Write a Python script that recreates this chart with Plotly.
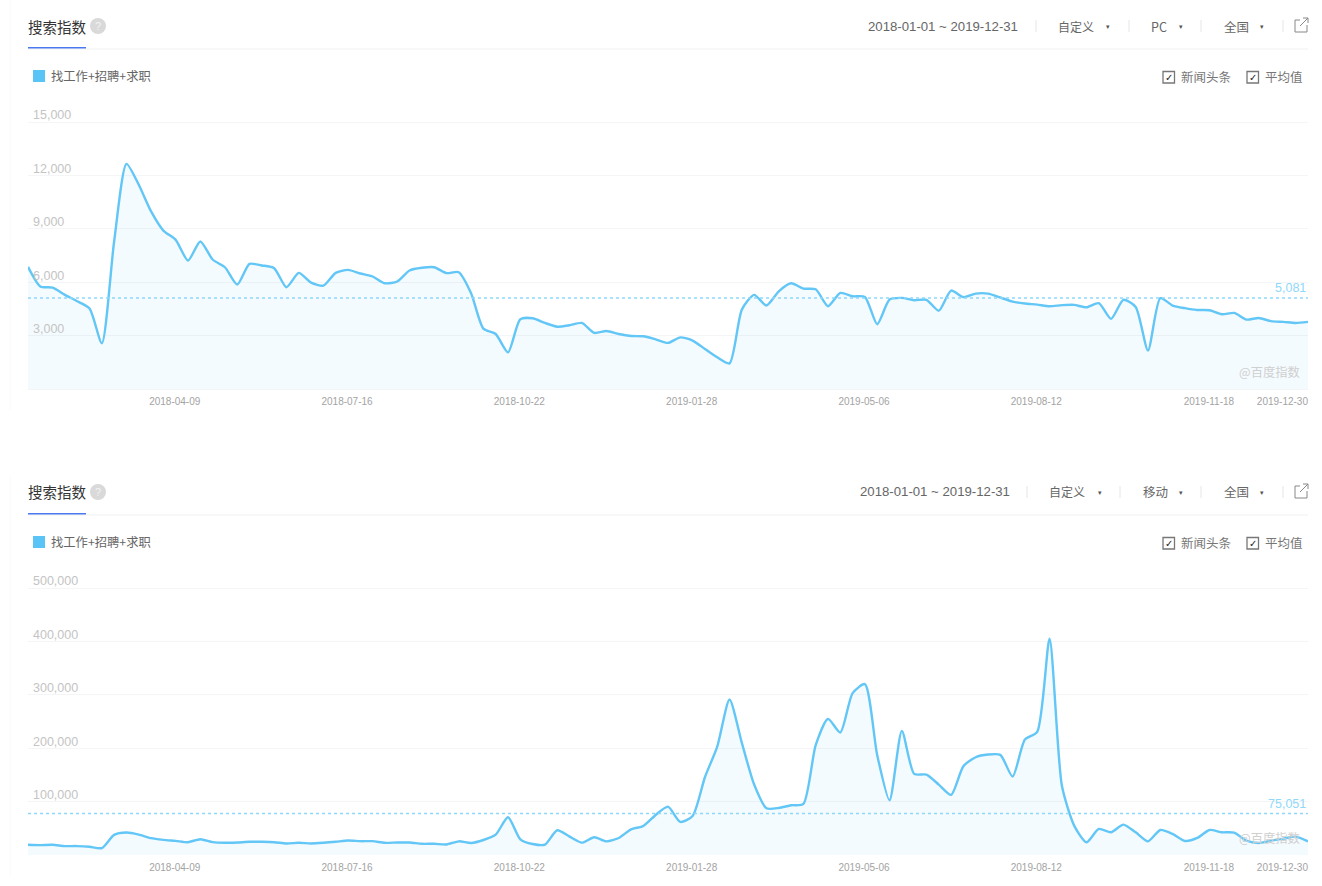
import pandas as pd
import plotly.graph_objects as go

W, H = 1322, 886
dates = pd.date_range("2018-01-01", periods=105, freq="7D")
pc_values = [6860,5760,5700,5290,4930,4520,2570,8300,12650,11475,9975,8900,8380,7220,8290,7275,6840,5870,7030,6940,6790,5720,6525,5980,5810,6525,6690,6490,6320,5940,6040,6660,6810,6840,6510,6560,
             5380,3390,3090,2060,3920,3975,3710,3500,3580,3710,3150,3260,3090,2980,2960,2790,2590,2900,2720,2250,1780,1440,4460,5290,4690,5490,5940,5640,5600,4650,5400,5210,5175,3640,5025,
             5120,4990,5010,4400,5530,5160,5360,5360,5140,4910,4800,4740,4650,4710,4725,4590,4820,3940,5010,4610,2160,5100,4690,4540,4440,4425,4200,4275,3900,3990,3810,3770,3710,3770]
mobile_values = [19100,18500,19100,16700,16700,15400,13000,37600,42000,38300,31500,28400,26500,24000,29600,24000,22800,23400,24700,24700,24000,21600,22800,21600,22800,24700,27100,25900,25900,22800,23400,23400,21000,21000,19700,25600,
                 22500,28100,38100,70600,29400,20600,19400,46250,34400,23100,33100,25600,31900,48100,54400,75000,90600,61900,73100,145600,203100,291250,210000,131900,87500,88100,93100,95600,205600,255000,229400,303100,320000,186900,102500,
                 232500,151900,150600,131900,112500,166250,183100,188100,187500,146900,216250,230600,405000,130000,55000,23750,48750,42500,56900,42500,25600,46900,39400,26250,31900,46900,42500,41900,26900,22500,26900,30600,34400,25600]
pc_avg, mobile_avg = 5081, 75051
# where the dashed mean lines sit in the picture
pc_avg_line, mobile_avg_line = 5110, 77500
pc_ticks = [0, 3000, 6000, 9000, 12000, 15000]
mobile_ticks = [0, 100000, 200000, 300000, 400000, 500000]
x_tick_dates = ["2018-04-09","2018-07-16","2018-10-22","2019-01-28","2019-05-06","2019-08-12","2019-11-18","2019-12-30"]
series_name = "找工作+招聘+求职"

LINE, FILL, AVG = "#62c6f6", "rgba(95,197,246,0.07)", "#8fd8fa"
GRID = "#f4f5f6"
CJK = "Noto Sans CJK SC, Liberation Sans"
LAT = "Liberation Sans, Noto Sans CJK SC"

def px(x): return x / W
def py(y): return 1 - y / H

fig = go.Figure()
shapes, notes = [], []

def rect(x0, y0, x1, y1, fill, line=None, lw=0):
    shapes.append(dict(type="rect", xref="paper", yref="paper", x0=px(x0), x1=px(x1), y0=py(y0), y1=py(y1),
                       fillcolor=fill, line=dict(color=line or fill, width=lw), layer="above"))

def seg(x0, y0, x1, y1, color, lw=1, layer="below"):
    shapes.append(dict(type="line", xref="paper", yref="paper", x0=px(x0), x1=px(x1), y0=py(y0), y1=py(y1),
                       line=dict(color=color, width=lw), layer=layer))

def text(x, y, s, size=12, color="#666", anchor="left", font=CJK):
    notes.append(dict(xref="paper", yref="paper", x=px(x), y=py(y), text=s, showarrow=False, xanchor=anchor,
                      yanchor="middle", font=dict(size=size, color=color, family=font), borderpad=0, borderwidth=0))

def panel(n, dy, values, avg, avg_line, ticks, device, date_x, div_x, dev_x, caret_x):
    xa, ya = ("x", "y") if n == 1 else ("x2", "y2")
    fig.add_trace(go.Scatter(x=dates, y=values, mode="lines", xaxis=xa, yaxis=ya, showlegend=False,
                             line=dict(color=LINE, width=2.4, shape="spline", smoothing=0.65),
                             fill="tozeroy", fillcolor=FILL, hoverinfo="skip"))
    fig.add_trace(go.Scatter(x=[dates[0], dates[-1]], y=[avg_line, avg_line], mode="lines", xaxis=xa, yaxis=ya, showlegend=False,
                             line=dict(color=AVG, width=1.5, dash="3px,3px"), hoverinfo="skip"))
    top, bot = 122 + dy, 389 + dy
    upp = ticks[-1] / (bot - top)  # data units per pixel
    axis = dict(domain=[py(bot + 1), py(top - 20)], range=[-upp, ticks[-1] + 20 * upp], tickvals=ticks,
                ticktext=[""] + [f"{t:,}" for t in ticks[1:]], ticklabelposition="inside", ticklabelshift=-7,
                ticklabelstandoff=2,
                tickfont=dict(size=12.5, color="#c4c4c4", family=LAT), showgrid=True, gridcolor=GRID, gridwidth=1,
                zeroline=False, showline=False, ticks="", anchor=xa)
    xaxis = dict(domain=[px(28), px(1308)], range=[dates[0], dates[-1]], tickvals=x_tick_dates, ticktext=x_tick_dates,
                 ticklabelposition="outside left", ticklabelstandoff=4, tickfont=dict(size=10, color="#a3a3a3", family=LAT),
                 showgrid=False, zeroline=False, showline=False, ticks="", anchor=ya, tickangle=0)
    fig.update_layout({("yaxis" if n == 1 else "yaxis2"): axis, ("xaxis" if n == 1 else "xaxis2"): xaxis})

    # header
    text(28, 26 + dy, "搜索指数", 14.5, "#333")
    shapes.append(dict(type="circle", xref="paper", yref="paper", x0=px(90), x1=px(106), y0=py(18 + dy), y1=py(34 + dy),
                       fillcolor="#d9d9d9", line=dict(width=0), layer="above"))
    text(98, 26 + dy, "?", 11, "#f3f3f3", "center", LAT)
    seg(28, 49 + dy, 1308, 49 + dy, "#f0f1f2", 1)
    rect(28, 47 + dy, 86, 48.5 + dy, "#4a78ee")
    seg(10, 0 + dy + (0 if dy == 0 else 10), 10, 410 + dy, "#fafafa", 1)
    # header controls
    text(date_x, 26 + dy, "2018-01-01 ~ 2019-12-31", 13.2, "#666", "left", LAT)
    for d in div_x:
        seg(d, 20 + dy, d, 32 + dy, "#e6e6e6", 1)
    text(dev_x[0], 26 + dy, "自定义", 12, "#666")
    text(dev_x[1], 26 + dy, device, 12.5, "#666")
    text(1224, 26 + dy, "全国", 12.5, "#666")
    for c in caret_x:
        text(c, 27 + dy, "▾", 7, "#555", "center", "DejaVu Sans")
    # external-link icon
    shapes.append(dict(type="rect", xref="paper", yref="paper", x0=px(1295), x1=px(1307), y0=py(20 + dy), y1=py(32 + dy),
                       fillcolor="rgba(0,0,0,0)", line=dict(color="#888", width=1), layer="above"))
    rect(1300, 17 + dy, 1309, 25 + dy, "#ffffff")
    seg(1300, 26 + dy, 1308, 18 + dy, "#888", 1, "above")
    seg(1303, 18 + dy, 1308, 18 + dy, "#888", 1, "above")
    seg(1308, 18 + dy, 1308, 23 + dy, "#888", 1, "above")
    # legend
    rect(33, 70 + dy, 45, 82 + dy, "#5bc4f6")
    text(51, 76 + dy, series_name, 12.3, "#666")
    # checkboxes
    for x0, label, tx in [(1163, "新闻头条", 1181), (1247, "平均值", 1265)]:
        rect(x0, 71.5 + dy, x0 + 11.5, 83 + dy, "#ffffff", "#777", 1.3)
        text(x0 + 5.8, 77.5 + dy, "✓", 10, "#222", "center", "DejaVu Sans")
        text(tx, 76.5 + dy, label, 12.5, "#777")
    # avg label + watermark
    text(1306, 287.5 + dy + (0 if n == 1 else 50), f"{avg:,}", 12.5, AVG, "right", LAT)
    text(1300, 372 + dy, "@百度指数", 12.3, "#cfcfcf", "right")

panel(1, 0, pc_values, pc_avg, pc_avg_line, pc_ticks, "PC", 868, [1036, 1129, 1201, 1283], [1058, 1151], [1108, 1181, 1262])
panel(2, 466, mobile_values, mobile_avg, mobile_avg_line, mobile_ticks, "移动", 860, [1027, 1120, 1201, 1283], [1049, 1143], [1100, 1181, 1262])

fig.update_layout(width=W, height=H, margin=dict(l=0, r=0, t=0, b=0), paper_bgcolor="white", plot_bgcolor="white",
                  shapes=shapes, annotations=notes, showlegend=False, font=dict(family=LAT))
fig.write_html("out.html", config=dict(displayModeBar=False),
               post_script="document.body.style.margin='0';document.body.style.overflow='hidden';")
